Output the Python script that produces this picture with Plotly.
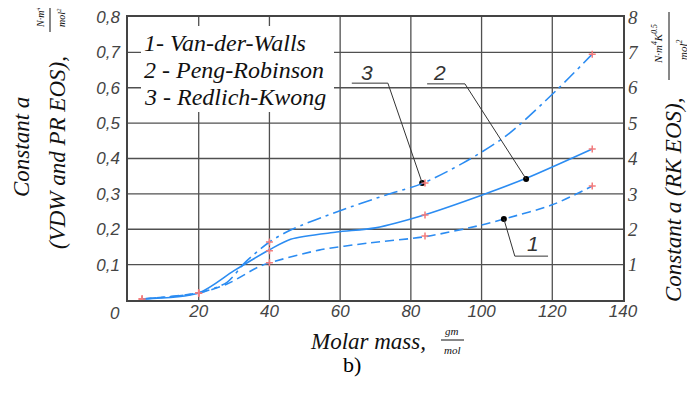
import plotly.graph_objects as go

# ---------------- data ----------------
# curve 1 : Van-der-Walls (left axis)
vdw_mass = [4, 20, 28, 36.8, 40, 54, 68, 84, 100, 106.3, 120, 131.3]
vdw_a    = [0.003, 0.02, 0.045, 0.093, 0.105, 0.141, 0.161, 0.179, 0.212, 0.229, 0.269, 0.322]
# curve 2 : Peng-Robinson (left axis)
pr_mass = [4, 20, 30, 40, 46, 59, 70, 84, 100, 112.6, 131.3]
pr_a    = [0.003, 0.02, 0.083, 0.142, 0.172, 0.192, 0.204, 0.241, 0.296, 0.344, 0.427]
# curve 3 : Redlich-Kwong (right axis)
rk_mass = [4, 20, 28, 33, 40, 46, 59, 73, 83.1, 94.7, 107.2, 121.3, 131.3]
rk_a    = [0.03, 0.2, 0.5, 1.05, 1.64, 1.98, 2.49, 2.97, 3.29, 3.87, 4.66, 5.94, 6.95]

# measured points (red marks)
pts_mass = [4, 20, 40, 84, 131.3]
pts_vdw  = [0.003, 0.02, 0.105, 0.181, 0.322]
pts_pr   = [0.003, 0.02, 0.139, 0.240, 0.427]
pts_rk   = [0.03, 0.2, 1.64, 3.31, 6.95]

x_ticks = [20, 40, 60, 80, 100, 120, 140]
y_ticks = [0.1, 0.2, 0.3, 0.4, 0.5, 0.6, 0.7, 0.8]
y_ticktext = ["0,1", "0,2", "0,3", "0,4", "0,5", "0,6", "0,7", "0,8"]
y2_ticks = [1, 2, 3, 4, 5, 6, 7, 8]

legend_lines = ["1- Van-der-Walls", "2 - Peng-Robinson", "3 - Redlich-Kwong"]

# leader callouts: label, label position, polyline (data coords, left-axis units)
leaders = [
    ("3", (67.6, 0.643), [(63.3, 0.613), (73.5, 0.613), (83.2, 0.331)]),
    ("2", (88.2, 0.643), [(84.6, 0.611), (95.3, 0.611), (112.6, 0.342)]),
    ("1", (114.5, 0.161), [(106.3, 0.229), (109.4, 0.124), (118.8, 0.124)]),
]

# ---------------- figure ----------------
# the page body has an 8px margin, so the figure is placed 8px in from the window corner
OFF = 8
W, H = 695 - OFF, 396 - OFF
PL, PT, PR_, PB = 128, 17, 623, 300          # plot area in window pixels
L, T = PL - OFF, PT - OFF
R, B = 695 - PR_, 396 - PB
PW, PH = PR_ - PL, PB - PT

def px(xp):
    return (xp - PL) / PW

def py(yp):
    return (PB - yp) / PH

BLUE = "#2b8cf2"
RED = "#f47c7c"
GRID = "#505050"
SERIF = "Liberation Serif"
SANS = "Liberation Sans"

fig = go.Figure()

fig.add_trace(go.Scatter(x=vdw_mass, y=vdw_a, mode="lines", yaxis="y",
                         line=dict(color=BLUE, width=1.6, dash="9px,5px", shape="spline", smoothing=0.8),
                         showlegend=False, hoverinfo="skip"))
fig.add_trace(go.Scatter(x=pr_mass, y=pr_a, mode="lines", yaxis="y",
                         line=dict(color=BLUE, width=1.6, shape="spline", smoothing=0.8),
                         showlegend=False, hoverinfo="skip"))
fig.add_trace(go.Scatter(x=rk_mass, y=rk_a, mode="lines", yaxis="y2",
                         line=dict(color=BLUE, width=1.6, dash="14px,5px,3px,5px", shape="spline", smoothing=0.8),
                         showlegend=False, hoverinfo="skip"))

mk = dict(color=RED, size=5, symbol="cross-thin", line=dict(color=RED, width=1.5))
fig.add_trace(go.Scatter(x=pts_mass, y=pts_vdw, mode="markers", yaxis="y", marker=mk, showlegend=False))
fig.add_trace(go.Scatter(x=pts_mass, y=pts_pr, mode="markers", yaxis="y", marker=mk, showlegend=False))
fig.add_trace(go.Scatter(x=pts_mass, y=pts_rk, mode="markers", yaxis="y2", marker=mk, showlegend=False))

shapes = []
annotations = []

def note(xp, yp, text, size, family=SERIF, color="#111", angle=0, xanchor="center"):
    annotations.append(dict(xref="paper", yref="paper", x=px(xp), y=py(yp), text=text,
                            textangle=angle, showarrow=False, xanchor=xanchor, yanchor="middle",
                            font=dict(family=family, size=size, color=color)))

def pline(x0, y0, x1, y1, color="#111", width=1):
    shapes.append(dict(type="line", xref="paper", yref="paper", x0=px(x0), x1=px(x1),
                       y0=py(y0), y1=py(y1), line=dict(color=color, width=width), layer="above"))

# grid lines
for v in x_ticks[:-1]:
    shapes.append(dict(type="line", xref="x", yref="paper", x0=v, x1=v, y0=0, y1=1,
                       line=dict(color=GRID, width=1.3), layer="below"))
for v in y_ticks[:-1]:
    shapes.append(dict(type="line", xref="paper", yref="y", x0=0, x1=1, y0=v, y1=v,
                       line=dict(color=GRID, width=1.3), layer="below"))

# legend box (white, hides grid)
shapes.append(dict(type="rect", xref="paper", yref="paper", layer="above",
                   x0=px(141), x1=px(334), y0=py(112), y1=py(26),
                   fillcolor="white", line=dict(width=0)))
for i, t in enumerate(legend_lines):
    note(142, 43 + 27 * i, "<i>" + t + "</i>", 24, xanchor="left")

# leaders
dot_x, dot_y = [], []
for lab, (lx, ly), pts in leaders:
    for (xa, ya), (xb, yb) in zip(pts[:-1], pts[1:]):
        shapes.append(dict(type="line", xref="x", yref="y", x0=xa, y0=ya, x1=xb, y1=yb,
                           line=dict(color="#333", width=1), layer="above"))
    annotations.append(dict(xref="x", yref="y", x=lx, y=ly, text="<i>" + lab + "</i>",
                            xanchor="center", yanchor="middle",
                            showarrow=False, font=dict(family=SANS, size=21, color="#333")))
    end = pts[-1] if lab != "1" else pts[0]
    dot_x.append(end[0]); dot_y.append(end[1])
fig.add_trace(go.Scatter(x=dot_x, y=dot_y, mode="markers", yaxis="y",
                         marker=dict(color="black", size=6), showlegend=False))

# origin label
note(115, 313, "<i>0</i>", 17, family=SANS, color="#444")

# left axis title
note(21, 147, "<i>Constant a</i>", 23, angle=-90)
note(57, 153, "<i>(VDW and PR EOS),</i>", 23, angle=-90)
note(40, 18, "<i>N·m<sup>4</sup></i>", 10, angle=-90)
note(61, 18, "<i>mol<sup>2</sup></i>", 10, angle=-90)
pline(50, 4, 50, 32)

# right axis title
note(674, 200, "<i>Constant a (RK EOS),</i>", 23, angle=-90)
note(657, 44, "<i>N·m<sup>4</sup>K<sup>0.5</sup></i>", 11, angle=-90)
note(682, 50, "<i>mol<sup>2</sup></i>", 11, angle=-90)
pline(669, 12, 669, 80)

# x-axis title
note(368, 341, "<i>Molar mass,</i>", 23)
note(452, 331, "<i>gm</i>", 11)
note(452, 350, "<i>mol</i>", 11)
pline(441, 340, 464, 340)
note(352, 364, "b)", 22, color="#000")

fig.update_layout(
    width=W, height=H, margin=dict(l=L, r=R, t=T, b=B, autoexpand=False),
    paper_bgcolor="white", plot_bgcolor="white",
    showlegend=False,
    xaxis=dict(range=[0, 140], tickvals=x_ticks, ticktext=["<i>%d</i>" % v for v in x_ticks],
               showgrid=False, zeroline=False,
               showline=True, linecolor="#444", linewidth=1.8, mirror=True, ticks="",
               tickfont=dict(family=SANS, size=17, color="#444"), ticklabelstandoff=-5,
               ticklabeloverflow="allow"),
    yaxis=dict(range=[0, 0.8], tickvals=y_ticks, ticktext=["<i>%s</i>" % t for t in y_ticktext],
               showgrid=False, zeroline=False,
               showline=True, linecolor="#444", linewidth=1.5, mirror=True, ticks="",
               tickfont=dict(family=SANS, size=17, color="#444"), ticklabelstandoff=3,
               ticklabeloverflow="allow"),
    yaxis2=dict(range=[0, 8], tickvals=y2_ticks, ticktext=["<i>%d</i>" % v for v in y2_ticks],
                overlaying="y", side="right", showgrid=False, zeroline=False, ticks="",
                tickfont=dict(family=SERIF, size=19, color="#444"), ticklabelstandoff=4,
                ticklabeloverflow="allow"),
    shapes=shapes, annotations=annotations,
)

fig.write_html("out.html")
